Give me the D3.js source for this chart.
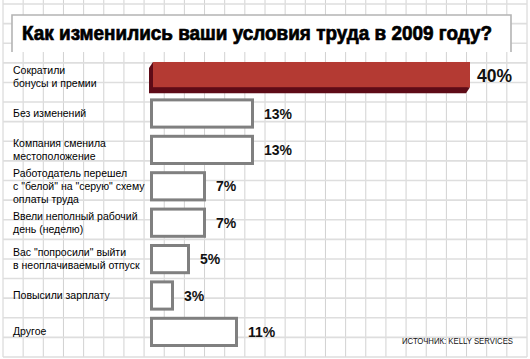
<!DOCTYPE html>
<html>
<head>
<meta charset="utf-8">
<script src="https://cdn.jsdelivr.net/npm/d3@7"></script>
<style>
  html, body { margin: 0; padding: 0; background: #fff; }
  svg { display: block; }
</style>
</head>
<body>
<svg id="chart" width="530" height="359"></svg>
<script>
// ---- data ----
const titleText = "Как изменились ваши условия труда в 2009 году?";
const sourceText = "ИСТОЧНИК: KELLY SERVICES";
const categories = [
  "Сократили бонусы и премии",
  "Без изменений",
  "Компания сменила местоположение",
  "Работодатель перешел с \"белой\" на \"серую\" схему оплаты труда",
  "Ввели неполный рабочий день (неделю)",
  "Вас \"попросили\" выйти в неоплачиваемый отпуск",
  "Повысили зарплату",
  "Другое"
];
const categoryLines = [
  ["Сократили", "бонусы и премии"],
  ["Без изменений"],
  ["Компания сменила", "местоположение"],
  ["Работодатель перешел", "с \"белой\" на \"серую\" схему", "оплаты труда"],
  ["Ввели неполный рабочий", "день (неделю)"],
  ["Вас \"попросили\" выйти", "в неоплачиваемый отпуск"],
  ["Повысили зарплату"],
  ["Другое"]
];
const values = [40, 13, 13, 7, 7, 5, 3, 11];
const highlighted = [true, false, false, false, false, false, false, false];

// ---- drawing ----
const svg = d3.select("#chart");
const W = 530, H = 359;

svg.append("rect").attr("width", W).attr("height", H).attr("fill", "#fff");

// grid paper background
const gx0 = 3, gx1 = 527, gy0 = 4, gy1 = 357;
const vLines = d3.range(27).map(k => gx0 + k * (gx1 - gx0) / 26);
const hLines = d3.range(19).map(k => gy0 + k * (gy1 - gy0) / 18);
const grid = svg.append("g");
grid.selectAll("line.v").data(vLines).join("line")
  .attr("x1", d => d).attr("x2", d => d)
  .attr("y1", 0).attr("y2", gy1)
  .attr("stroke", "#d2d2d2").attr("stroke-width", 1);
grid.selectAll("line.h").data(hLines).join("line")
  .attr("x1", gx0).attr("x2", gx1)
  .attr("y1", d => d).attr("y2", d => d)
  .attr("stroke", "#dedede").attr("stroke-width", 1.6);

// title box
const tb = { x0: 12, x1: 511, y0: 15, y1: 52 };
svg.append("rect").attr("x", tb.x0).attr("y", tb.y0)
  .attr("width", tb.x1 - tb.x0).attr("height", tb.y1 - tb.y0)
  .attr("fill", "#fff");
svg.append("path")
  .attr("d", `M${tb.x0},${tb.y1} L${tb.x0},${tb.y0} L${tb.x1},${tb.y0} L${tb.x1},${tb.y1}`)
  .attr("fill", "none").attr("stroke", "#b4b4b4").attr("stroke-width", 1.6);
svg.append("text")
  .attr("x", 22).attr("y", 40)
  .attr("font-family", "'Liberation Sans', Arial, sans-serif")
  .attr("font-weight", "bold").attr("font-size", 20)
  .attr("textLength", 470).attr("lengthAdjust", "spacingAndGlyphs")
  .attr("fill", "#000").attr("stroke", "#000").attr("stroke-width", 0.7)
  .text(titleText);

// scales
const x = d3.scaleLinear().domain([0, 40]).range([150, 470]);
const y = d3.scaleBand().domain(categories).range([58.9, 350.1])
  .paddingInner(0.17).paddingOuter(0.085);

const rows = categories.map((c, i) => ({
  cat: c, lines: categoryLines[i], value: values[i], hi: highlighted[i]
}));

// category labels
const labels = svg.append("g")
  .attr("font-family", "'Liberation Sans', Arial, sans-serif")
  .attr("font-size", 10.5).attr("fill", "#000");
rows.forEach(r => {
  const cy = y(r.cat) + y.bandwidth() / 2;
  const n = r.lines.length;
  labels.append("g").selectAll("text").data(r.lines).join("text")
    .attr("x", 13)
    .attr("y", (d, i) => cy + 3.5 + (i - (n - 1) / 2) * 13)
    .text(d => d);
});

// bars
const bars = svg.append("g");
rows.forEach(r => {
  const y0 = y(r.cat), y1 = y0 + y.bandwidth();
  const xa = x(0), xb = x(r.value);
  if (r.hi) {
    const fx0 = xa + 3, dx = 4, dy = 6;
    const fy1 = y1 - dy + 1;
    bars.append("polygon")
      .attr("points", [
        [fx0, y0], [fx0 - dx, y0 + dy], [fx0 - dx, fy1 + dy],
        [xb - dx, fy1 + dy], [xb, fy1]
      ].map(p => p.join(",")).join(" "))
      .attr("fill", "#5e0b17");
    bars.append("rect")
      .attr("x", fx0).attr("y", y0)
      .attr("width", xb - fx0).attr("height", fy1 - y0)
      .attr("fill", "#b43a33");
  } else {
    bars.append("rect")
      .attr("x", xa + 1.5).attr("y", y0 + 1.5)
      .attr("width", xb - xa - 3).attr("height", y1 - y0 - 3)
      .attr("fill", "#fff").attr("stroke", "#808080").attr("stroke-width", 3);
  }
});

// value labels
svg.append("g").selectAll("text").data(rows).join("text")
  .attr("x", d => x(d.value) + (d.hi ? 7 : 10))
  .attr("y", d => y(d.cat) + y.bandwidth() / 2 + 5)
  .attr("font-family", "'Liberation Sans', Arial, sans-serif")
  .attr("font-weight", "bold")
  .attr("font-size", d => d.hi ? 17.5 : 14)
  .attr("fill", "#111")
  .text(d => d.value + "%");

// source
svg.append("text")
  .attr("x", 402).attr("y", 344)
  .attr("font-family", "'Liberation Sans', Arial, sans-serif")
  .attr("font-size", 8.6)
  .attr("textLength", 111).attr("lengthAdjust", "spacingAndGlyphs")
  .attr("fill", "#111")
  .text(sourceText);
</script>
</body>
</html>
